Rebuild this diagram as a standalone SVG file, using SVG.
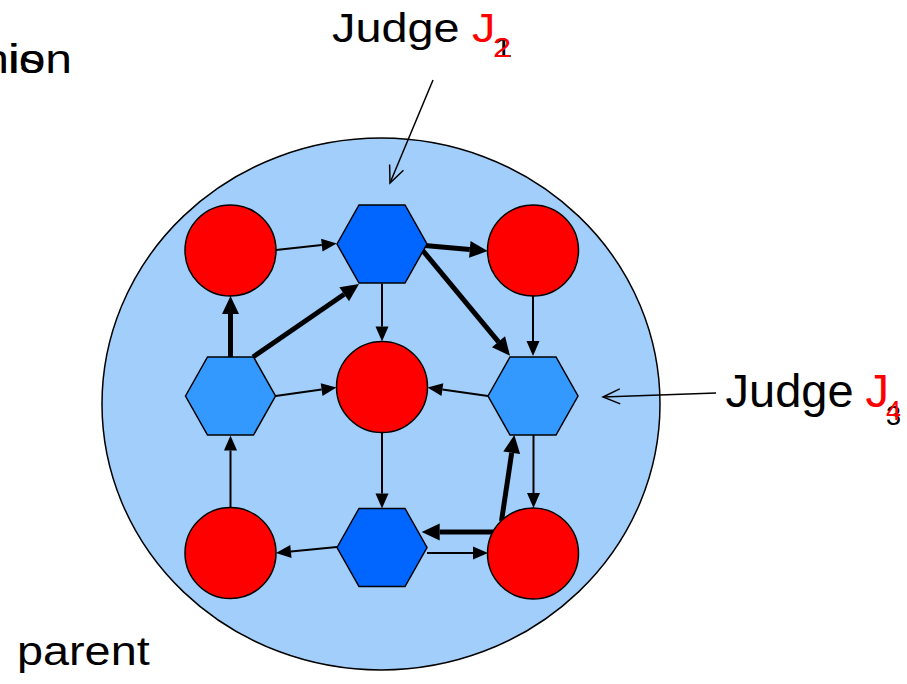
<svg xmlns="http://www.w3.org/2000/svg" width="907" height="684" viewBox="0 0 907 684">
  <style>
    .txt { font-family: "Liberation Sans", Arial, sans-serif; fill: #000; }
    .red { fill: #ff0000; }
    .circ { fill: #ff0000; stroke: #000; stroke-width: 1.5; }
    .hexd { fill: #0066ff; stroke: #000; stroke-width: 1.5; }
    .hexl { fill: #3399ff; stroke: #000; stroke-width: 1.5; }
    .thin { stroke: #000; stroke-width: 2; fill: none; marker-end: url(#headThin); }
    .thick { stroke: #000; stroke-width: 5; fill: none; marker-end: url(#headThick); }
    .ptr { stroke: #000; stroke-width: 1.5; fill: none; marker-end: url(#openHead); }
  </style>
  <defs>
    <!-- solid heads: reference point at the base so the line stops under the head -->
    <marker id="headThin" markerUnits="userSpaceOnUse" markerWidth="16" markerHeight="14" refX="0" refY="7" orient="auto" overflow="visible">
      <path d="M0,0.5 L15,7 L0,13.5 Z" fill="#000"/>
    </marker>
    <marker id="headThick" markerUnits="userSpaceOnUse" markerWidth="19" markerHeight="18" refX="0" refY="9" orient="auto" overflow="visible">
      <path d="M0,0.5 L18,9 L0,17.5 Z" fill="#000"/>
    </marker>
    <marker id="openHead" markerUnits="userSpaceOnUse" markerWidth="20" markerHeight="16" refX="17" refY="8" orient="auto" overflow="visible">
      <path d="M0,0.5 L17,8 L0,15.5" fill="none" stroke="#000" stroke-width="1.5"/>
    </marker>
  </defs>

  <rect width="907" height="684" fill="#ffffff"/>

  <!-- overlapping caption fragments at the top left -->
  <g id="caption-top">
    <text class="txt" font-size="41" transform="translate(-31,73) scale(1.17,1)">this</text>
    <text class="txt" font-size="41" transform="translate(8,73) scale(1.17,1)">ion</text>
  </g>

  <!-- enclosing region -->
  <g id="region">
    <ellipse cx="381" cy="404" rx="279" ry="266" fill="#a2cefb" stroke="#000" stroke-width="1.5"/>
  </g>

  <!-- connectors -->
  <g id="connectors">
    <line class="thin" x1="276" y1="250" x2="321.8" y2="245.1"/>
    <line class="thin" x1="382" y1="283.5" x2="382" y2="326.5"/>
    <line class="thin" x1="275.5" y1="396" x2="321.6" y2="389.6"/>
    <line class="thin" x1="488" y1="396" x2="442.4" y2="389.6"/>
    <line class="thin" x1="533" y1="296" x2="533" y2="341"/>
    <line class="thin" x1="382" y1="432.5" x2="382" y2="493.5"/>
    <line class="thin" x1="230.5" y1="507.5" x2="230.5" y2="450.5"/>
    <line class="thin" x1="337" y1="547" x2="290.9" y2="551.5"/>
    <line class="thin" x1="427" y1="553" x2="473" y2="553"/>
    <line class="thin" x1="533.5" y1="435" x2="533.5" y2="493"/>

    <line class="thick" x1="230.5" y1="357" x2="230.5" y2="314"/>
    <line class="thick" x1="253" y1="357" x2="344.2" y2="294.2"/>
    <line class="thick" x1="419" y1="245" x2="469.8" y2="249.4"/>
    <line class="thick" x1="419" y1="246" x2="498.5" y2="341.8"/>
    <line class="thick" x1="501.5" y1="521" x2="511.7" y2="452.8"/>
    <line class="thick" x1="501.5" y1="532" x2="439.7" y2="532"/>

    <line class="ptr" x1="433" y1="80" x2="390" y2="183"/>
    <line class="ptr" x1="716" y1="393" x2="603" y2="397"/>
  </g>

  <!-- nodes -->
  <g id="n-top-left"><circle class="circ" cx="230.5" cy="250.5" r="45.5"/></g>
  <g id="n-top-hex"><polygon class="hexd" points="337,244 359,205 405,205 427,244 405,283 359,283"/></g>
  <g id="n-top-right"><circle class="circ" cx="533" cy="250.5" r="45.5"/></g>
  <g id="n-mid-left-hex"><polygon class="hexl" points="185.5,396 207.5,357 253.5,357 275.5,396 253.5,435 207.5,435"/></g>
  <g id="n-center"><circle class="circ" cx="382" cy="387" r="45.5"/></g>
  <g id="n-mid-right-hex"><polygon class="hexl" points="488,396 510,357 556,357 578,396 556,435 510,435"/></g>
  <g id="n-bottom-left"><circle class="circ" cx="230.5" cy="553" r="45.5"/></g>
  <g id="n-bottom-hex"><polygon class="hexd" points="337,547.5 359,508.5 405,508.5 427,547.5 405,586.5 359,586.5"/></g>
  <g id="n-bottom-right"><circle class="circ" cx="533" cy="553.5" r="45.5"/></g>

  <!-- judge labels -->
  <g id="label-judge-top">
    <text class="txt" font-size="40" transform="translate(332,41.7) scale(1.17,1)">Judge</text>
    <text class="txt red" font-size="40" transform="translate(472,41.7) scale(1.17,1)">J</text>
    <text class="txt" font-size="28" transform="translate(494,56.7) scale(1.17,1)">1</text>
    <text class="txt red" font-size="28" transform="translate(493,56.7) scale(1.17,1)">2</text>
  </g>
  <g id="label-judge-right">
    <text class="txt" font-size="47" x="725.5" y="406.5">Judge</text>
    <text class="txt red" font-size="47" x="865.5" y="406.5">J</text>
    <text class="txt" font-size="27" x="886" y="425">3</text>
    <text class="txt red" font-size="27" x="886" y="420">4</text>
  </g>

  <g id="caption-bottom">
    <text class="txt" font-size="40" transform="translate(17,665) scale(1.17,1)">parent</text>
  </g>
</svg>
